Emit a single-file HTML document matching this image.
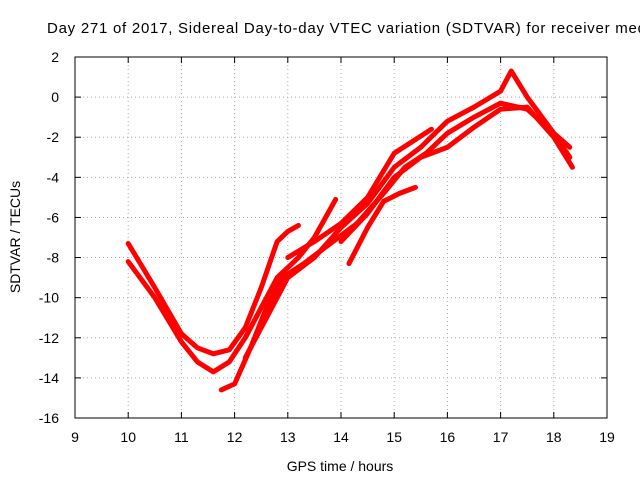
<!DOCTYPE html>
<html><head><meta charset="utf-8"><style>
body{margin:0;background:#fff}
svg{display:block;font-family:"Liberation Sans",sans-serif}
</style></head><body>
<svg id="chart" width="640" height="480" viewBox="0 0 640 480">
<rect width="640" height="480" fill="#fff"/>
<text x="47" y="33" font-size="15" textLength="603" lengthAdjust="spacing" fill="#000">Day 271 of 2017, Sidereal Day-to-day VTEC variation (SDTVAR) for receiver medi</text>
<g id="grid"></g>
<g id="ticks"></g>
<g id="series"></g>
<rect x="75" y="57" width="532" height="361" fill="none" stroke="#000" stroke-width="1"/>
<text x="340" y="471" font-size="14" text-anchor="middle">GPS time / hours</text>
<text x="20" y="237" font-size="14" text-anchor="middle" transform="rotate(-90 20 237)">SDTVAR / TECUs</text>
</svg>
<script>
const xTicks=[9,10,11,12,13,14,15,16,17,18,19];
const yTicks=[2,0,-2,-4,-6,-8,-10,-12,-14,-16];
const traceA=[[10,-7.3],[10.5,-9.5],[11,-11.8],[11.3,-12.5],[11.6,-12.8],[11.9,-12.6],[12.2,-11.5],[12.5,-9.5],[12.8,-7.2],[13,-6.7],[13.2,-6.4]];
const traceB=[[10,-8.2],[10.5,-10],[11,-12.2],[11.3,-13.2],[11.6,-13.7],[11.9,-13.2],[12.2,-12],[12.5,-10.5],[12.8,-9],[13.2,-8],[13.5,-7],[13.9,-5.1]];
const traceC=[[11.75,-14.6],[12,-14.3],[12.3,-12.5],[12.6,-10.5],[12.9,-9],[13.3,-8.3],[13.8,-7.3],[14.3,-6.3],[14.8,-4.8],[15.2,-3.5],[15.6,-2.8],[16,-1.8],[16.5,-1],[17,-0.3],[17.5,-0.6],[18,-1.8],[18.3,-2.5]];
const traceD=[[12.2,-13],[12.6,-11],[13,-9],[13.5,-8],[14,-6.5],[14.5,-5.3],[15,-3.5],[15.5,-2.5],[16,-1.2],[16.5,-0.5],[17,0.3],[17.2,1.3],[17.5,0],[18,-1.8],[18.3,-3]];
const traceE=[[14.15,-8.3],[14.5,-6.5],[14.8,-5.2],[15.1,-4.8],[15.4,-4.5]];
const traceF=[[14,-7.2],[14.5,-5.8],[15,-4],[15.5,-3],[16,-2.5],[16.5,-1.5],[17,-0.6],[17.5,-0.5],[18,-2],[18.35,-3.5]];
const traceG=[[13,-8],[13.5,-7.2],[14,-6.3],[14.5,-5],[15,-2.8],[15.7,-1.6]];
const traces=[traceA,traceB,traceC,traceD,traceE,traceF,traceG];
const NS='http://www.w3.org/2000/svg';
const X0=75,X1=607,Y0=57,Y1=418;
const xs=v=>X0+(v-9)/(19-9)*(X1-X0);
const ys=v=>Y0+(2-v)/(2-(-16))*(Y1-Y0);
function mk(tag,attrs,parent,txt){const e=document.createElementNS(NS,tag);for(const k in attrs)e.setAttribute(k,attrs[k]);if(txt!==undefined)e.textContent=txt;parent.appendChild(e);return e;}
const grid=document.getElementById('grid'),ticks=document.getElementById('ticks'),series=document.getElementById('series');
xTicks.forEach(t=>{
  const x=xs(t);
  if(t>9&&t<19){const g=mk('line',{x1:x,x2:x,y1:Y0,y2:Y1,stroke:'#aaa','stroke-dasharray':'1,3'},grid);
  
  }
  mk('line',{x1:x,x2:x,y1:Y1,y2:Y1-6,stroke:'#000'},ticks);
  mk('line',{x1:x,x2:x,y1:Y0,y2:Y0+6,stroke:'#000'},ticks);
  const l=mk('text',{x:x,y:442,'font-size':14,'text-anchor':'middle'},ticks,String(t));
  
  
});
yTicks.forEach(t=>{
  const y=ys(t);
  if(t<2&&t>-16){const g=mk('line',{x1:X0,x2:X1,y1:y,y2:y,stroke:'#aaa','stroke-dasharray':'1,3'},grid);
  
  }
  mk('line',{x1:X0,x2:X0+6,y1:y,y2:y,stroke:'#000'},ticks);
  mk('line',{x1:X1,x2:X1-6,y1:y,y2:y,stroke:'#000'},ticks);
  const l=mk('text',{x:59,y:y+5,'font-size':14,'text-anchor':'end'},ticks,String(t));
  
  
});
traces.forEach((tr,i)=>{
  const p=mk('polyline',{points:tr.map(d=>xs(d[0])+','+ys(d[1])).join(' '),fill:'none',stroke:'#f00','stroke-width':5,'stroke-linejoin':'round','stroke-linecap':'round'},series);
  
  
});
</script>
</body></html>
